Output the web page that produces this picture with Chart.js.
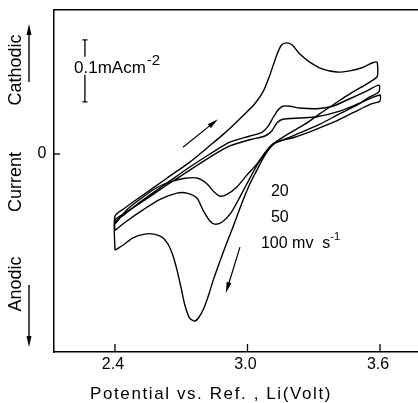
<!DOCTYPE html>
<html>
<head>
<meta charset="utf-8">
<script src="https://cdn.jsdelivr.net/npm/chart.js@4/dist/chart.umd.min.js"></script>
<style>
  html, body { margin: 0; padding: 0; background: #fff; }
  canvas { display: block; }
</style>
</head>
<body>
<canvas id="cvChart" width="418" height="403"></canvas>
<script>
// scan rates (mV/s)
const scanRates = ['20', '50', '100'];

// 100 mV/s loop (V vs Li, mA cm-2), cathodic positive
const potential100 = [2.400, 2.400, 2.445, 2.527, 2.635, 2.739, 2.821, 2.898, 2.975, 3.033,
  3.070, 3.101, 3.129, 3.151, 3.174, 3.201, 3.237, 3.282, 3.337, 3.405,
  3.463, 3.518, 3.567, 3.586, 3.590, 3.586, 3.531, 3.463, 3.395, 3.328,
  3.260, 3.192, 3.147, 3.115, 3.079, 3.047, 3.011, 2.975, 2.934, 2.902,
  2.875, 2.848, 2.825, 2.803, 2.780, 2.762, 2.739, 2.717, 2.699, 2.681,
  2.662, 2.640, 2.613, 2.576, 2.536, 2.481, 2.436, 2.400];
const current100 = [-0.155, -0.100, -0.087, -0.066, -0.039, -0.013, 0.011, 0.034, 0.060, 0.081,
  0.100, 0.127, 0.156, 0.174, 0.179, 0.176, 0.161, 0.148, 0.137, 0.132,
  0.134, 0.139, 0.147, 0.148, 0.135, 0.124, 0.111, 0.097, 0.081, 0.065,
  0.048, 0.034, 0.024, 0.016, -0.002, -0.023, -0.048, -0.079, -0.118, -0.147,
  -0.173, -0.200, -0.226, -0.248, -0.263, -0.269, -0.265, -0.244, -0.215, -0.187,
  -0.163, -0.145, -0.134, -0.129, -0.129, -0.135, -0.147, -0.155];

// 50 mV/s loop
const potential50 = [2.400, 2.400, 2.445, 2.527, 2.635, 2.739, 2.830, 2.920, 3.011, 3.065,
  3.092, 3.115, 3.138, 3.160, 3.192, 3.237, 3.314, 3.386, 3.463, 3.531,
  3.595, 3.595, 3.554, 3.486, 3.418, 3.328, 3.237, 3.169, 3.119, 3.083,
  3.047, 3.011, 2.966, 2.925, 2.884, 2.852, 2.830, 2.798, 2.771, 2.726,
  2.681, 2.604, 2.527, 2.454, 2.400];
const current50 = [-0.123, -0.110, -0.097, -0.074, -0.047, -0.021, 0.000, 0.019, 0.029, 0.035,
  0.044, 0.058, 0.071, 0.077, 0.077, 0.074, 0.073, 0.077, 0.089, 0.100,
  0.111, 0.100, 0.092, 0.077, 0.065, 0.048, 0.034, 0.024, 0.016, 0.002,
  -0.016, -0.039, -0.069, -0.095, -0.110, -0.113, -0.108, -0.090, -0.071, -0.063,
  -0.063, -0.073, -0.090, -0.108, -0.123];

// 20 mV/s loop
const potential20 = [2.400, 2.400, 2.445, 2.527, 2.635, 2.739, 2.830, 2.920, 3.011, 3.079,
  3.110, 3.133, 3.160, 3.237, 3.314, 3.418, 3.509, 3.599, 3.599, 3.563,
  3.486, 3.395, 3.305, 3.214, 3.147, 3.110, 3.079, 3.043, 2.997, 2.952,
  2.907, 2.875, 2.848, 2.816, 2.776, 2.717, 2.649, 2.581, 2.513, 2.454, 2.400];
const current20 = [-0.113, -0.106, -0.095, -0.076, -0.050, -0.026, -0.005, 0.013, 0.023, 0.029,
  0.037, 0.050, 0.056, 0.058, 0.060, 0.069, 0.082, 0.095, 0.085, 0.081,
  0.068, 0.052, 0.039, 0.027, 0.021, 0.015, 0.002, -0.016, -0.034, -0.053,
  -0.065, -0.068, -0.061, -0.048, -0.039, -0.039, -0.045, -0.056, -0.073, -0.090, -0.113];

// axis ticks
const xTicks = [2.4, 3.0, 3.6];
const xTickLabels = ['2.4', '3.0', '3.6'];
const yTicks = [0];
const yTickLabels = ['0'];

const toPoints = (xs, ys) => xs.map((v, i) => ({ x: v, y: ys[i] }));

const FONT = "'Liberation Sans', 'DejaVu Sans', sans-serif";

function arrow(ctx, x1, y1, x2, y2, headLen, headW) {
  const ang = Math.atan2(y2 - y1, x2 - x1);
  ctx.beginPath();
  ctx.moveTo(x1, y1);
  ctx.lineTo(x2 - Math.cos(ang) * headLen * 0.6, y2 - Math.sin(ang) * headLen * 0.6);
  ctx.stroke();
  ctx.beginPath();
  ctx.moveTo(x2, y2);
  ctx.lineTo(x2 - Math.cos(ang) * headLen + Math.sin(ang) * headW,
             y2 - Math.sin(ang) * headLen - Math.cos(ang) * headW);
  ctx.lineTo(x2 - Math.cos(ang) * headLen - Math.sin(ang) * headW,
             y2 - Math.sin(ang) * headLen + Math.cos(ang) * headW);
  ctx.closePath();
  ctx.fill();
}

const annotations = {
  id: 'annotations',
  afterDraw(chart) {
    const { ctx } = chart;
    const x = chart.scales.x, y = chart.scales.y;
    ctx.save();
    ctx.strokeStyle = '#000';
    ctx.fillStyle = '#000';
    ctx.lineWidth = 1.3;

    // inward ticks on potential axis
    const bottom = y.bottom;
    ctx.font = '16px ' + FONT;
    ctx.textAlign = 'center';
    ctx.textBaseline = 'middle';
    xTicks.forEach((v, i) => {
      const px = x.getPixelForValue(v);
      ctx.beginPath();
      ctx.moveTo(px, bottom);
      ctx.lineTo(px, bottom - 8);
      ctx.stroke();
      ctx.fillText(xTickLabels[i], px - 2, bottom + 13);
    });
    // zero tick on current axis
    yTicks.forEach((v, i) => {
      const py = y.getPixelForValue(v);
      ctx.beginPath();
      ctx.moveTo(x.left, py);
      ctx.lineTo(x.left + 6, py);
      ctx.stroke();
      ctx.fillText(yTickLabels[i], x.left - 12, py);
    });

    // axis title
    ctx.font = '17px ' + FONT;
    ctx.letterSpacing = '1.6px';
    ctx.fillText('Potential vs. Ref. , Li(Volt)', 211, 394);
    ctx.letterSpacing = '0px';

    // rotated y labels with arrows
    ctx.save();
    ctx.translate(16, 0);
    ctx.rotate(-Math.PI / 2);
    ctx.font = '18px ' + FONT;
    ctx.fillText('Cathodic', -70, 0);
    ctx.fillText('Current', -182, 0);
    ctx.fillText('Anodic', -284, 0);
    ctx.restore();
    ctx.lineWidth = 1.4;
    arrow(ctx, 29, 82, 29, 24, 11, 2.5);
    arrow(ctx, 29, 285, 29, 347, 11, 2.5);

    // 0.1 mA cm-2 scale bar
    const bx = x.getPixelForValue(2.264);
    const bTop = y.getPixelForValue(0.184);
    const bBot = y.getPixelForValue(0.084);
    ctx.lineWidth = 1.3;
    ctx.beginPath();
    ctx.moveTo(bx, bTop); ctx.lineTo(bx, bTop + 17);
    ctx.moveTo(bx, bBot - 27); ctx.lineTo(bx, bBot);
    ctx.moveTo(bx - 2.5, bTop); ctx.lineTo(bx + 2.5, bTop);
    ctx.moveTo(bx - 2.5, bBot); ctx.lineTo(bx + 2.5, bBot);
    ctx.stroke();
    ctx.textAlign = 'left';
    ctx.textBaseline = 'alphabetic';
    ctx.font = '17px ' + FONT;
    const unit = '0.1mAcm';
    ctx.fillText(unit, 74, 73);
    const uw = ctx.measureText(unit).width;
    ctx.font = '15px ' + FONT;
    ctx.fillText('-2', 74 + uw + 1, 65);

    // scan rate labels
    const lx = x.getPixelForValue(3.106);
    ctx.font = '16px ' + FONT;
    ctx.textBaseline = 'middle';
    ctx.fillText(scanRates[0], lx, y.getPixelForValue(-0.060));
    ctx.fillText(scanRates[1], lx, y.getPixelForValue(-0.102));
    const l3x = x.getPixelForValue(3.061);
    const l3y = y.getPixelForValue(-0.144);
    const main = scanRates[2] + ' mv  s';
    ctx.fillText(main, l3x, l3y);
    const w = ctx.measureText(main).width;
    ctx.font = '11px ' + FONT;
    ctx.fillText('-1', l3x + w, l3y - 6);

    // sweep direction arrows
    ctx.lineWidth = 1.2;
    arrow(ctx, x.getPixelForValue(2.708), y.getPixelForValue(0.011),
               x.getPixelForValue(2.866), y.getPixelForValue(0.056), 11, 2.5);
    arrow(ctx, x.getPixelForValue(2.966), y.getPixelForValue(-0.150),
               x.getPixelForValue(2.902), y.getPixelForValue(-0.224), 11, 2.5);
    ctx.restore();
  }
};

const lineStyle = {
  showLine: true,
  fill: false,
  borderColor: '#000',
  borderWidth: 1.4,
  pointRadius: 0,
  tension: 0.25
};

new Chart(document.getElementById('cvChart').getContext('2d'), {
  type: 'scatter',
  data: {
    datasets: [
      { label: scanRates[0], data: toPoints(potential20, current20), ...lineStyle },
      { label: scanRates[1], data: toPoints(potential50, current50), ...lineStyle },
      { label: scanRates[2], data: toPoints(potential100, current100), ...lineStyle }
    ]
  },
  options: {
    responsive: false,
    animation: false,
    devicePixelRatio: 1,
    layout: { padding: 0 },
    plugins: { legend: { display: false }, tooltip: { enabled: false } },
    scales: {
      x: {
        type: 'linear', position: 'bottom', min: 2.124, max: 3.772,
        grid: { display: false },
        border: { display: true, color: '#000', width: 1.5 },
        ticks: { display: false },
        afterFit: s => { s.height = 51; }
      },
      xTop: {
        type: 'linear', position: 'top', min: 2.124, max: 3.772,
        grid: { display: false },
        border: { display: true, color: '#000', width: 1.5 },
        ticks: { display: false },
        afterFit: s => { s.height = 10; }
      },
      y: {
        type: 'linear', min: -0.319, max: 0.232,
        grid: { display: false },
        border: { display: true, color: '#000', width: 1.5 },
        ticks: { display: false },
        afterFit: s => { s.width = 54; }
      }
    }
  },
  plugins: [annotations]
});
</script>
</body>
</html>
